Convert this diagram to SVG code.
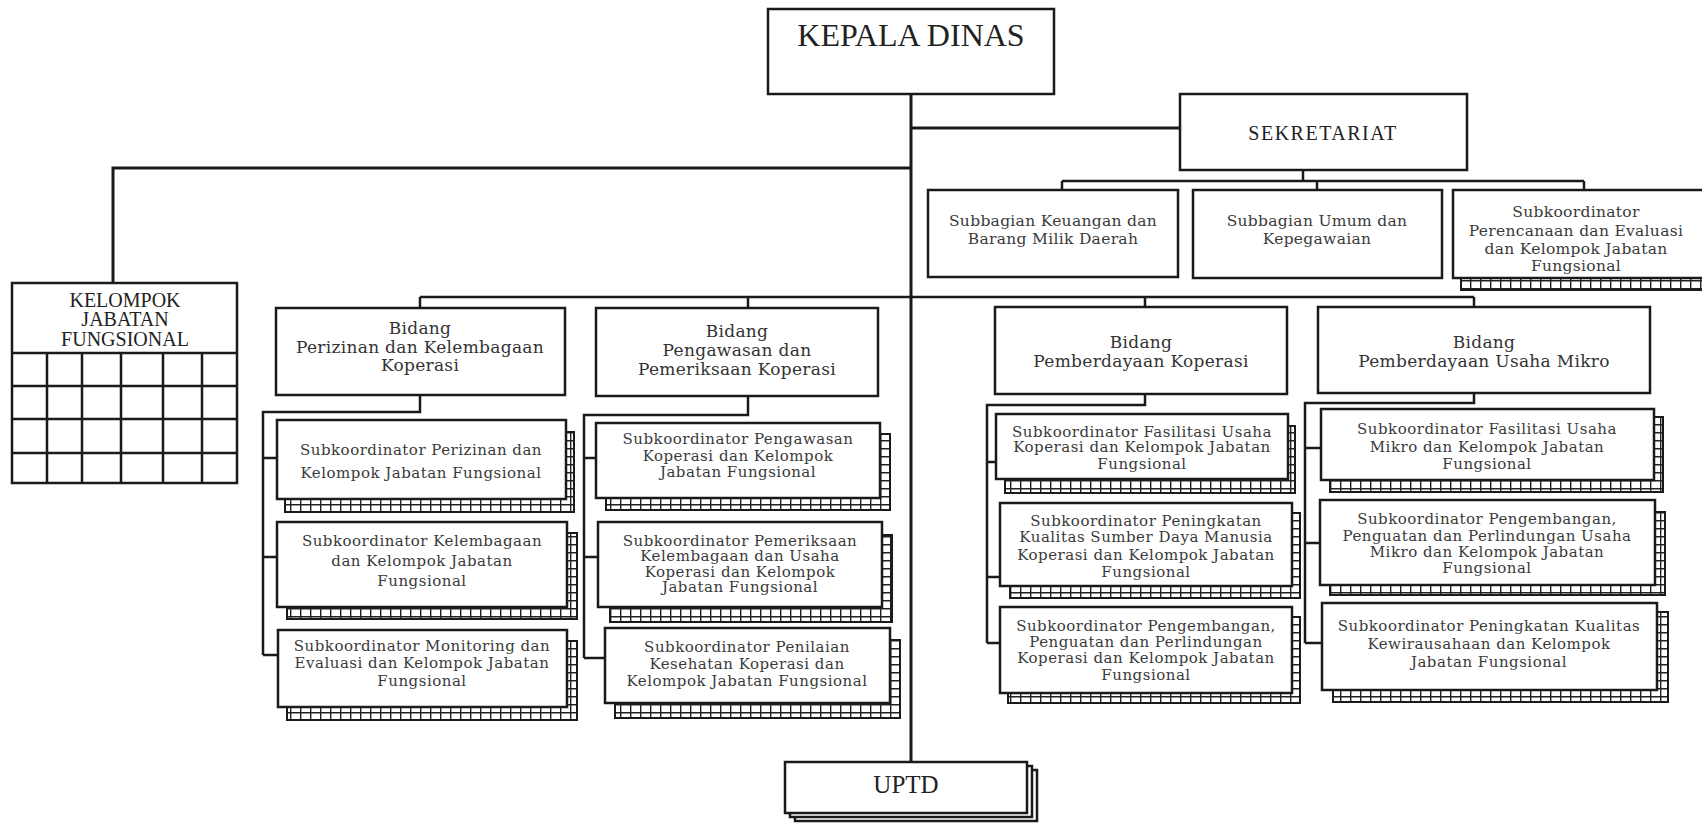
<svg xmlns="http://www.w3.org/2000/svg" width="1702" height="824" viewBox="0 0 1702 824">
<defs>
<pattern id="hatch" width="10" height="8" patternUnits="userSpaceOnUse"><rect width="10" height="8" fill="#fff"/><path d="M0.7 0V8M0 0.7H10" stroke="#222" stroke-width="1.4"/></pattern>
<style>
.bx{fill:#fff;stroke:#1a1a1a;stroke-width:2.5}
.sh{fill:url(#hatch);stroke:#1a1a1a;stroke-width:2}
.sh2{fill:#fff;stroke:#1a1a1a;stroke-width:2.5}
.ln{fill:none;stroke:#1a1a1a;stroke-width:2.5}
.ln3{fill:none;stroke:#1a1a1a;stroke-width:3}
.t{font-family:"DejaVu Serif","Liberation Serif",serif;font-size:15px;letter-spacing:0.5px;fill:#3a3a3a;text-anchor:middle}
.tm{font-family:"DejaVu Serif","Liberation Serif",serif;font-size:15.5px;letter-spacing:0.3px;fill:#3a3a3a;text-anchor:middle}
.tb{font-family:"DejaVu Serif","Liberation Serif",serif;font-size:17px;letter-spacing:0.3px;fill:#333;text-anchor:middle}
.tc{font-family:"Liberation Serif",serif;fill:#222;text-anchor:middle}
</style>
</defs>
<rect width="1702" height="824" fill="#fff"/>

<g id="connectors">
<path class="ln3" d="M911 94V762"/>
<path class="ln3" d="M911 128H1180"/>
<path class="ln3" d="M911 168H113V283"/>
<path class="ln" d="M1303 170V181M1062 181H1584M1062 181V190M1584 181V190M1317 181V190"/>
<path class="ln" d="M420 297H1474M420 297V308M748 297V308M1145 297V307M1474 297V307"/>
<path class="ln" d="M420 395V412H263V655M263 458H277M263 557H277M263 655H278"/>
<path class="ln" d="M748 396V415H584V658M584 458H596M584 557H598M584 658H605"/>
<path class="ln" d="M1145 394V405H987V643M987 462H996M987 577H1000M987 643H1000"/>
<path class="ln" d="M1474 393V403H1305V643M1305 448H1321M1305 543H1320M1305 643H1322"/>
</g>

<g id="kepala-dinas">
<rect class="bx" x="768" y="9" width="286" height="85"/>
<text class="tc" x="911" y="46" font-size="32">KEPALA DINAS</text>
</g>

<g id="sekretariat">
<rect class="bx" x="1180" y="94" width="287" height="76"/>
<text class="tc" x="1323" y="140" font-size="20" letter-spacing="1.5">SEKRETARIAT</text>
</g>

<g id="subbag-keuangan">
<rect class="bx" x="928" y="190" width="250" height="87"/>
<text class="tm" x="1053"><tspan x="1053" y="226">Subbagian Keuangan dan</tspan><tspan x="1053" y="244">Barang Milik Daerah</tspan></text>
</g>
<g id="subbag-umum">
<rect class="bx" x="1193" y="190" width="249" height="88"/>
<text class="tm" x="1317"><tspan x="1317" y="226">Subbagian Umum dan</tspan><tspan x="1317" y="244">Kepegawaian</tspan></text>
</g>
<g id="subkoor-perencanaan">
<rect class="sh" x="1461" y="200" width="250" height="90"/>
<rect class="bx" x="1453" y="190" width="260" height="88"/>
<text class="tm" x="1576"><tspan x="1576" y="217">Subkoordinator</tspan><tspan x="1576" y="236">Perencanaan dan Evaluasi</tspan><tspan x="1576" y="254">dan Kelompok Jabatan</tspan><tspan x="1576" y="271">Fungsional</tspan></text>
</g>

<g id="kelompok-jabatan-fungsional">
<rect class="bx" x="12" y="283" width="225" height="200"/>
<path class="ln" d="M12 353H237M12 386H237M12 419H237M12 453H237M47 353V483M82 353V483M121 353V483M163 353V483M202 353V483"/>
<text class="tc" x="125" font-size="20"><tspan x="125" y="307">KELOMPOK</tspan><tspan x="125" y="326">JABATAN</tspan><tspan x="125" y="346">FUNGSIONAL</tspan></text>
</g>

<g id="bidang-perizinan">
<rect class="bx" x="276" y="308" width="289" height="87"/>
<text class="tb" x="420"><tspan x="420" y="334">Bidang</tspan><tspan x="420" y="353">Perizinan dan Kelembagaan</tspan><tspan x="420" y="371">Koperasi</tspan></text>
</g>
<g id="bidang-pengawasan">
<rect class="bx" x="596" y="308" width="282" height="88"/>
<text class="tb" x="737"><tspan x="737" y="337">Bidang</tspan><tspan x="737" y="356">Pengawasan dan</tspan><tspan x="737" y="375">Pemeriksaan Koperasi</tspan></text>
</g>
<g id="bidang-koperasi">
<rect class="bx" x="995" y="307" width="292" height="87"/>
<text class="tb" x="1141"><tspan x="1141" y="348">Bidang</tspan><tspan x="1141" y="367">Pemberdayaan Koperasi</tspan></text>
</g>
<g id="bidang-usaha-mikro">
<rect class="bx" x="1318" y="307" width="332" height="86"/>
<text class="tb" x="1484"><tspan x="1484" y="348">Bidang</tspan><tspan x="1484" y="367">Pemberdayaan Usaha Mikro</tspan></text>
</g>

<g id="subkoor-perizinan">
<rect class="sh" x="285" y="432" width="289" height="80"/>
<rect class="bx" x="277" y="420" width="289" height="79"/>
<text class="t" x="421"><tspan x="421" y="455">Subkoordinator Perizinan dan</tspan><tspan x="421" y="478">Kelompok Jabatan Fungsional</tspan></text>
</g>
<g id="subkoor-kelembagaan">
<rect class="sh" x="287" y="533" width="290" height="86"/>
<rect class="bx" x="277" y="522" width="290" height="85"/>
<text class="t" x="422"><tspan x="422" y="546">Subkoordinator Kelembagaan</tspan><tspan x="422" y="566">dan Kelompok Jabatan</tspan><tspan x="422" y="586">Fungsional</tspan></text>
</g>
<g id="subkoor-monitoring">
<rect class="sh" x="287" y="641" width="290" height="79"/>
<rect class="bx" x="278" y="630" width="289" height="77"/>
<text class="t" x="422"><tspan x="422" y="651">Subkoordinator Monitoring dan</tspan><tspan x="422" y="668">Evaluasi dan Kelompok Jabatan</tspan><tspan x="422" y="686">Fungsional</tspan></text>
</g>

<g id="subkoor-pengawasan">
<rect class="sh" x="606" y="434" width="284" height="76"/>
<rect class="bx" x="596" y="423" width="284" height="75"/>
<text class="t" x="738"><tspan x="738" y="444">Subkoordinator Pengawasan</tspan><tspan x="738" y="461">Koperasi dan Kelompok</tspan><tspan x="738" y="477">Jabatan Fungsional</tspan></text>
</g>
<g id="subkoor-pemeriksaan">
<rect class="sh" x="610" y="535" width="282" height="87"/>
<rect class="bx" x="598" y="522" width="284" height="85"/>
<text class="t" x="740"><tspan x="740" y="546">Subkoordinator Pemeriksaan</tspan><tspan x="740" y="561">Kelembagaan dan Usaha</tspan><tspan x="740" y="577">Koperasi dan Kelompok</tspan><tspan x="740" y="592">Jabatan Fungsional</tspan></text>
</g>
<g id="subkoor-penilaian">
<rect class="sh" x="615" y="640" width="285" height="78"/>
<rect class="bx" x="605" y="628" width="285" height="75"/>
<text class="t" x="747"><tspan x="747" y="652">Subkoordinator Penilaian</tspan><tspan x="747" y="669">Kesehatan Koperasi dan</tspan><tspan x="747" y="686">Kelompok Jabatan Fungsional</tspan></text>
</g>

<g id="subkoor-fasilitasi-koperasi">
<rect class="sh" x="1005" y="426" width="290" height="67"/>
<rect class="bx" x="996" y="414" width="292" height="65"/>
<text class="t" x="1142"><tspan x="1142" y="437">Subkoordinator Fasilitasi Usaha</tspan><tspan x="1142" y="452">Koperasi dan Kelompok Jabatan</tspan><tspan x="1142" y="469">Fungsional</tspan></text>
</g>
<g id="subkoor-sdm-koperasi">
<rect class="sh" x="1010" y="513" width="290" height="85"/>
<rect class="bx" x="1000" y="503" width="292" height="83"/>
<text class="t" x="1146"><tspan x="1146" y="526">Subkoordinator Peningkatan</tspan><tspan x="1146" y="542">Kualitas Sumber Daya Manusia</tspan><tspan x="1146" y="560">Koperasi dan Kelompok Jabatan</tspan><tspan x="1146" y="577">Fungsional</tspan></text>
</g>
<g id="subkoor-pengembangan-koperasi">
<rect class="sh" x="1008" y="617" width="292" height="86"/>
<rect class="bx" x="1000" y="607" width="292" height="86"/>
<text class="t" x="1146"><tspan x="1146" y="631">Subkoordinator Pengembangan,</tspan><tspan x="1146" y="647">Penguatan dan Perlindungan</tspan><tspan x="1146" y="663">Koperasi dan Kelompok Jabatan</tspan><tspan x="1146" y="680">Fungsional</tspan></text>
</g>

<g id="subkoor-fasilitasi-mikro">
<rect class="sh" x="1330" y="417" width="333" height="75"/>
<rect class="bx" x="1321" y="409" width="333" height="71"/>
<text class="t" x="1487"><tspan x="1487" y="434">Subkoordinator Fasilitasi Usaha</tspan><tspan x="1487" y="452">Mikro dan Kelompok Jabatan</tspan><tspan x="1487" y="469">Fungsional</tspan></text>
</g>
<g id="subkoor-pengembangan-mikro">
<rect class="sh" x="1330" y="512" width="335" height="83"/>
<rect class="bx" x="1320" y="500" width="335" height="85"/>
<text class="t" x="1487"><tspan x="1487" y="524">Subkoordinator Pengembangan,</tspan><tspan x="1487" y="541">Penguatan dan Perlindungan Usaha</tspan><tspan x="1487" y="557">Mikro dan Kelompok Jabatan</tspan><tspan x="1487" y="573">Fungsional</tspan></text>
</g>
<g id="subkoor-kewirausahaan">
<rect class="sh" x="1333" y="612" width="335" height="90"/>
<rect class="bx" x="1322" y="603" width="335" height="87"/>
<text class="t" x="1489"><tspan x="1489" y="631">Subkoordinator Peningkatan Kualitas</tspan><tspan x="1489" y="649">Kewirausahaan dan Kelompok</tspan><tspan x="1489" y="667">Jabatan Fungsional</tspan></text>
</g>

<g id="uptd">
<rect class="sh2" x="795" y="770" width="242" height="51"/>
<rect class="sh2" x="790" y="766" width="242" height="51"/>
<rect class="bx" x="785" y="762" width="242" height="51"/>
<text class="tc" x="906" y="793" font-size="25">UPTD</text>
</g>
</svg>
